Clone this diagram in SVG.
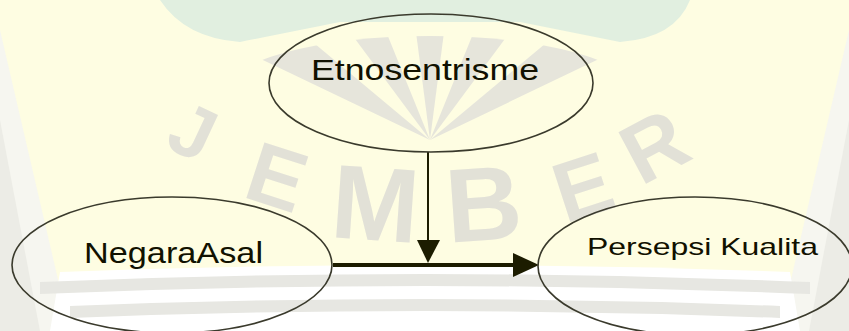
<svg xmlns="http://www.w3.org/2000/svg" width="849" height="331" viewBox="0 0 849 331">
<style>
.node{fill:none;stroke:#3a3a2c;stroke-width:1.6}
.lbl{font-family:"Liberation Sans",Arial,sans-serif;fill:#111100}
.wm{font-family:"Liberation Sans",Arial,sans-serif;font-weight:bold;fill:#e2e1d7;text-anchor:middle}
.ray{fill:#e6e5db}
.conn{stroke:#1c1c00;fill:none}
.head{fill:#1c1c00}
</style>
<defs>
<clipPath id="fanclip"><ellipse cx="430" cy="92" rx="205" ry="56"/></clipPath>
</defs>
<g id="watermark">
<rect x="0" y="0" width="849" height="331" fill="#fefde2"/>
<path d="M0 30 L0 331 L70 331 Z" fill="#f6f6f0"/>
<path d="M0 120 L0 331 L40 331 Z" fill="#ececE6"/>
<path d="M849 30 L849 331 L779 331 Z" fill="#f6f6f0"/>
<path d="M849 120 L849 331 L809 331 Z" fill="#ececE6"/>
<g class="ray" clip-path="url(#fanclip)">
<polygon points="430,140 403,-68 457,-68"/>
<polygon points="430,140 509,-55 556,-30"/>
<polygon points="430,140 351,-55 304,-30"/>
<polygon points="430,140 594,3 624,47"/>
<polygon points="430,140 266,3 236,47"/>
</g>
<path d="M160 0 Q185 38 240 42 Q300 30 340 22 L520 22 Q560 30 620 42 Q675 38 690 0 Z" fill="#e1efe0"/>
<path d="M60 272 Q425 258 790 272 L800 331 L50 331 Z" fill="#ffffff"/>
<path d="M40 282 Q425 266 810 282 L810 294 Q425 278 40 294 Z" fill="#e7e7e2"/>
<path d="M70 306 Q425 292 780 306 L780 318 Q425 304 70 318 Z" fill="#e7e7e2"/>
<text class="wm" font-size="75" x="182" y="155" transform="rotate(25 182 155)">J</text>
<text class="wm" font-size="85" x="268" y="205" transform="rotate(18 268 205)">E</text>
<text class="wm" font-size="105" x="373" y="240" transform="rotate(4 373 240)">M</text>
<text class="wm" font-size="105" x="486" y="240" transform="rotate(-4 486 240)">B</text>
<text class="wm" font-size="85" x="592" y="215" transform="rotate(-18 592 215)">E</text>
<text class="wm" font-size="85" x="668" y="172" transform="rotate(-28 668 172)">R</text>
</g>
<g id="connectors">
<line class="conn" x1="428" y1="152" x2="428" y2="242" stroke-width="2"/>
<polygon class="head" points="417,240 440,240 428,263"/>
<line class="conn" x1="333" y1="265" x2="515" y2="265" stroke-width="4"/>
<polygon class="head" points="513,253 539,265 513,277"/>
</g>
<g id="etnosentrisme">
<ellipse class="node" cx="431" cy="83" rx="162" ry="69"/>
<text class="lbl" x="311" y="80" font-size="29" textLength="228" lengthAdjust="spacingAndGlyphs">Etnosentrisme</text>
</g>
<g id="negara-asal">
<ellipse class="node" cx="172" cy="265" rx="160" ry="68"/>
<text class="lbl" x="84" y="263" font-size="30" textLength="179" lengthAdjust="spacingAndGlyphs">NegaraAsal</text>
</g>
<g id="persepsi-kualita">
<ellipse class="node" cx="695" cy="266" rx="157" ry="69"/>
<text class="lbl" x="587" y="255" font-size="24" textLength="231" lengthAdjust="spacingAndGlyphs">Persepsi Kualita</text>
</g>
</svg>
